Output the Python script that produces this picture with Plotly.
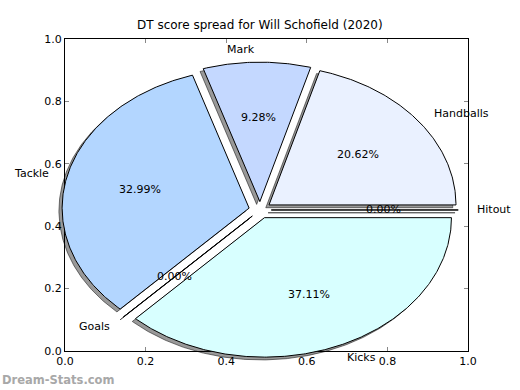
import numpy as np
import plotly.graph_objects as go

# ---- data ----
categories = ["Handballs", "Mark", "Tackle", "Goals", "Kicks", "Hitout"]
dt_points = [20, 9, 32, 0, 36, 0]
wedge_colors = ["#EAF1FF", "#C4D8FF", "#B3D6FF", "#D0E8FF", "#D8FFFF", "#E0F0FF"]
explode = [0.06, 0.06, 0.06, 0.06, 0.06, 0.06]
tick_vals = [0.0, 0.2, 0.4, 0.6, 0.8, 1.0]
tick_text = ["0.0", "0.2", "0.4", "0.6", "0.8", "1.0"]
title_text = "DT score spread for Will Schofield (2020)"
watermark = "Dream-Stats.com"

# ---- pie geometry (in axes data units) ----
CX, CY = 0.484, 0.452
RX, RY = 0.464, 0.447
SHX, SHY = -0.008, -0.009
LABEL_DIST, PCT_DIST = 1.09, 0.6
FONT = "DejaVu Sans, Verdana, sans-serif"

fig = go.Figure()

total = float(sum(dt_points))
fracs = [v / total for v in dt_points]

annotations = []
theta = 0.0
for name, frac, col, ex in zip(categories, fracs, wedge_colors, explode):
    t1 = theta
    t2 = theta + 360.0 * frac
    tm = np.deg2rad((t1 + t2) / 2.0)
    ox = CX + ex * RX * np.cos(tm)
    oy = CY + ex * RY * np.sin(tm)
    n = max(2, int(abs(t2 - t1) * 2))
    ang = np.deg2rad(np.linspace(t1, t2, n))
    xs = np.concatenate([[ox], ox + RX * np.cos(ang), [ox]])
    ys = np.concatenate([[oy], oy + RY * np.sin(ang), [oy]])
    # shadow
    fig.add_trace(go.Scatter(x=xs + SHX, y=ys + SHY, mode="lines", fill="toself",
                             fillcolor="rgba(0,0,0,0.4)",
                             line=dict(color="rgba(0,0,0,0.5)", width=1),
                             xaxis="x2", yaxis="y2", hoverinfo="skip"))
    # wedge
    fig.add_trace(go.Scatter(x=xs, y=ys, mode="lines", fill="toself",
                             fillcolor=col, line=dict(color="black", width=1),
                             xaxis="x2", yaxis="y2", name=name, hoverinfo="skip"))
    # labels
    c, s = np.cos(tm), np.sin(tm)
    lx = ox + LABEL_DIST * RX * c
    ly = oy + LABEL_DIST * RY * s
    annotations.append(dict(x=lx, y=ly, xref="x2", yref="y2", text=name,
                            showarrow=False, xanchor="left" if c > 0 else "right",
                            yanchor="middle", font=dict(family=FONT, size=11, color="black")))
    px_ = ox + PCT_DIST * RX * c
    py_ = oy + PCT_DIST * RY * s
    annotations.append(dict(x=px_, y=py_, xref="x2", yref="y2",
                            text="%1.2f%%" % (frac * 100), showarrow=False,
                            xanchor="center", yanchor="middle",
                            font=dict(family=FONT, size=11, color="black")))
    theta = t2

# invisible trace to activate the framed axes
fig.add_trace(go.Scatter(x=[None], y=[None], xaxis="x", yaxis="y", showlegend=False))

annotations.append(dict(x=0.5, y=1 - 25 / 390, xref="paper", yref="paper", text=title_text,
                        showarrow=False, xanchor="center", yanchor="middle",
                        font=dict(family=FONT, size=12, color="black")))
annotations.append(dict(x=0, y=1 - 380 / 390, xref="paper", yref="paper", text="<b>" + watermark + "</b>",
                        showarrow=False, xanchor="left", yanchor="middle",
                        font=dict(family=FONT, size=11.5, color="#a8a8a8")))

axis_common = dict(range=[0, 1], tickvals=tick_vals, ticktext=tick_text, ticks="inside",
                   ticklen=4, tickwidth=1, tickcolor="#888888", showline=True,
                   linecolor="black", linewidth=1, mirror="ticks", showgrid=False,
                   zeroline=False, automargin=False,
                   tickfont=dict(family=FONT, size=11, color="black"))

fig.update_layout(
    width=520, height=390,
    margin=dict(l=0, r=0, t=0, b=0, pad=0, autoexpand=False),
    paper_bgcolor="white", plot_bgcolor="rgba(0,0,0,0)",
    showlegend=False,
    xaxis=dict(domain=[0.125, 0.9], anchor="y", **axis_common),
    yaxis=dict(domain=[0.1, 0.9], anchor="x", **axis_common),
    xaxis2=dict(domain=[0, 1], range=[-0.125 / 0.775, 0.875 / 0.775], visible=False,
                anchor="y2", automargin=False),
    yaxis2=dict(domain=[0, 1], range=[-0.125, 1.125], visible=False,
                anchor="x2", automargin=False),
    annotations=annotations,
)

fig.write_html("out.html", config={"displayModeBar": False},
               post_script="document.body.style.margin='0';")
